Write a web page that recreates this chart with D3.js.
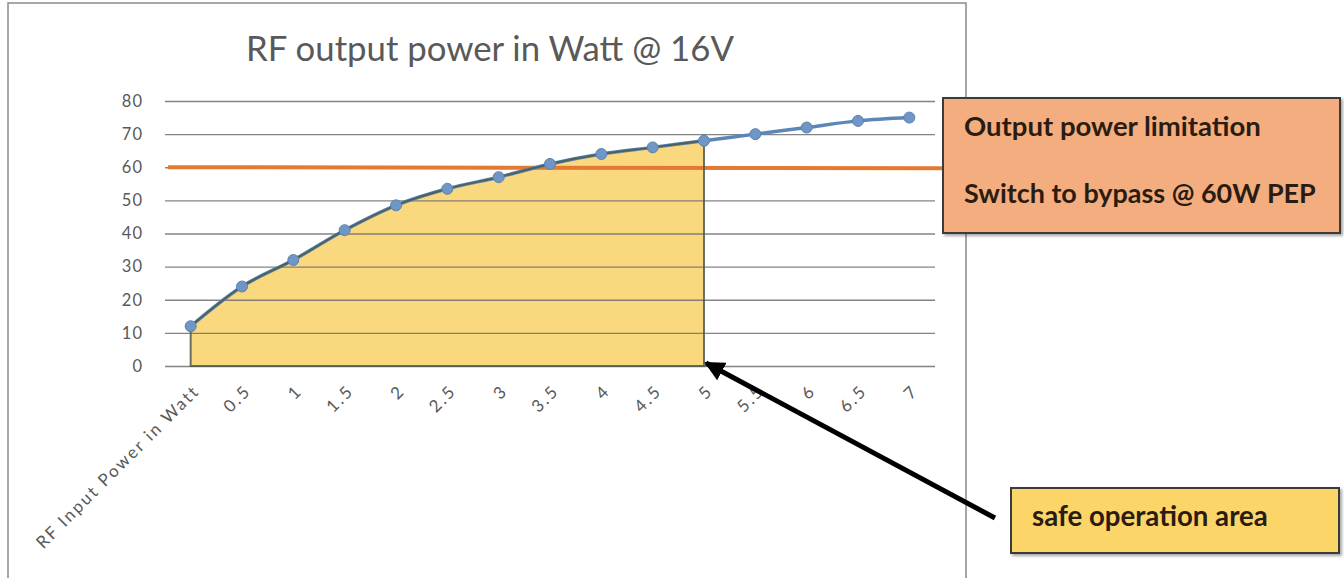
<!DOCTYPE html>
<html>
<head>
<meta charset="utf-8">
<script src="https://cdn.jsdelivr.net/npm/d3@7"></script>
<style>
  html, body { margin: 0; padding: 0; background: #fff; }
  svg { display: block; }
</style>
</head>
<body>
<svg id="chart" width="1344" height="578"></svg>
<script>
// ---- data ----
const categories = ["RF Input Power in Watt", "0.5", "1", "1.5", "2", "2.5", "3", "3.5", "4", "4.5", "5", "5.5", "6", "6.5", "7"];
const outputPower = [12, 24, 32, 41, 48.5, 53.5, 57, 61, 64, 66, 68, 70, 72, 74, 75];
const yTicks = [0, 10, 20, 30, 40, 50, 60, 70, 80];
const limitWatt = 60;
const safeEndCategory = "5";
const titleText = "RF output power in Watt @ 16V";
const limitBoxLines = ["Output power limitation", "Switch to bypass @ 60W PEP"];
const safeBoxText = "safe operation area";

// ---- layout ----
const svg = d3.select("#chart");
const font = "Lato, 'Liberation Sans', sans-serif";
const plot = { left: 165, right: 935, top: 101, bottom: 366 };

const x = d3.scaleBand().domain(categories).range([plot.left, plot.right]);
const y = d3.scaleLinear().domain([0, 80]).range([plot.bottom, plot.top]);
const cx = c => x(c) + x.bandwidth() / 2;

function fitWidth(sel, target) {
  const w = sel.node().getComputedTextLength();
  const fs = parseFloat(sel.attr("font-size"));
  sel.attr("font-size", fs * target / w);
}

// chart frame
svg.append("path")
  .attr("d", "M8,578 L8,3 L966,3 L966,578")
  .attr("fill", "none").attr("stroke", "#8a8a8a").attr("stroke-width", 1.5);

// title
const title = svg.append("text")
  .attr("x", 490).attr("y", 61)
  .attr("text-anchor", "middle")
  .attr("font-family", font).attr("font-size", 28)
  .attr("fill", "#595959")
  .text(titleText);
fitWidth(title, 488);

// safe-area data subset
const safeIdx = categories.indexOf(safeEndCategory);
const safeData = outputPower.slice(0, safeIdx + 1).map((v, i) => ({ c: categories[i], v }));
const allData = outputPower.map((v, i) => ({ c: categories[i], v }));

// area fill
const area = d3.area()
  .x(d => cx(d.c)).y0(y(0)).y1(d => y(d.v))
  .curve(d3.curveMonotoneX);
svg.append("path").datum(safeData)
  .attr("d", area)
  .attr("fill", "#FAD87E");

// gridlines + y labels
const yAxis = d3.axisLeft(y).tickValues(yTicks)
  .tickSize(-(plot.right - plot.left)).tickPadding(22);
const gy = svg.append("g").attr("transform", `translate(${plot.left},0)`).call(yAxis);
gy.select(".domain").remove();
gy.selectAll(".tick line").attr("stroke", "#6f6f6f").attr("stroke-opacity", 0.85).attr("stroke-width", 1.3);
gy.selectAll(".tick text")
  .attr("font-family", font).attr("font-size", 16.5).attr("letter-spacing", 1).attr("fill", "#595959");

// x labels
const xAxis = d3.axisBottom(x).tickSize(0).tickPadding(0);
const gx = svg.append("g").attr("transform", `translate(0,${plot.bottom})`).call(xAxis);
gx.select(".domain").remove();
gx.selectAll(".tick text")
  .attr("font-family", font).attr("font-size", 17).attr("letter-spacing", 2.2).attr("fill", "#595959")
  .attr("text-anchor", "end")
  .attr("x", 0).attr("y", 0).attr("dy", 0)
  .attr("transform", "translate(10,26) rotate(-45)");

// orange limit line
svg.append("line")
  .attr("x1", plot.left + 3).attr("x2", 944)
  .attr("y1", y(limitWatt)).attr("y2", y(limitWatt) + 1)
  .attr("stroke", "#E37A33").attr("stroke-width", 4);

// main line
const line = d3.line().x(d => cx(d.c)).y(d => y(d.v)).curve(d3.curveMonotoneX);
svg.append("path").datum(allData)
  .attr("d", line)
  .attr("fill", "none").attr("stroke", "#5B87B8").attr("stroke-width", 3.5);

// area outline on top
svg.append("path").datum(safeData)
  .attr("d", area)
  .attr("fill", "none").attr("stroke", "#4d5a4c").attr("stroke-width", 2).attr("stroke-opacity", 0.85);

// markers
svg.append("g").selectAll("circle").data(allData).join("circle")
  .attr("cx", d => cx(d.c)).attr("cy", d => y(d.v)).attr("r", 5.5)
  .attr("fill", "#6F96C4").attr("stroke", "#5A82B2").attr("stroke-width", 1);

// orange annotation box
const defs = svg.append("defs");
const f = defs.append("filter").attr("id", "shadow").attr("x", "-5%").attr("y", "-5%").attr("width", "115%").attr("height", "120%");
f.append("feDropShadow").attr("dx", 2).attr("dy", 2).attr("stdDeviation", 1.5).attr("flood-color", "#000").attr("flood-opacity", 0.35);

svg.append("rect")
  .attr("x", 943).attr("y", 98).attr("width", 397).attr("height", 135)
  .attr("fill", "#F4AD7E").attr("stroke", "#3a3a3a").attr("stroke-width", 2)
  .attr("filter", "url(#shadow)");
const lb1 = svg.append("text").attr("x", 964).attr("y", 136)
  .attr("font-family", font).attr("font-weight", "bold").attr("font-size", 19).attr("fill", "#2a1c12")
  .text(limitBoxLines[0]);
fitWidth(lb1, 297);
const lb2 = svg.append("text").attr("x", 964).attr("y", 203)
  .attr("font-family", font).attr("font-weight", "bold").attr("font-size", 19).attr("fill", "#2a1c12")
  .text(limitBoxLines[1]);
fitWidth(lb2, 352);

// safe area box
svg.append("rect")
  .attr("x", 1011).attr("y", 488).attr("width", 328).attr("height", 65)
  .attr("fill", "#FCD569").attr("stroke", "#3a3a3a").attr("stroke-width", 2)
  .attr("filter", "url(#shadow)");
const sb = svg.append("text").attr("x", 1032).attr("y", 526)
  .attr("font-family", font).attr("font-weight", "bold").attr("font-size", 19).attr("fill", "#2a1c12")
  .text(safeBoxText);
fitWidth(sb, 236);

// arrow
defs.append("marker").attr("id", "arrowhead")
  .attr("viewBox", "0 0 10 10").attr("refX", 9).attr("refY", 5)
  .attr("markerWidth", 4).attr("markerHeight", 4).attr("orient", "auto")
  .append("path").attr("d", "M0,0 L10,5 L0,10 z").attr("fill", "#000");
svg.append("line")
  .attr("x1", 995).attr("y1", 518)
  .attr("x2", cx(safeEndCategory) + 2).attr("y2", y(0) - 3)
  .attr("stroke", "#000").attr("stroke-width", 5)
  .attr("marker-end", "url(#arrowhead)");
</script>
</body>
</html>
